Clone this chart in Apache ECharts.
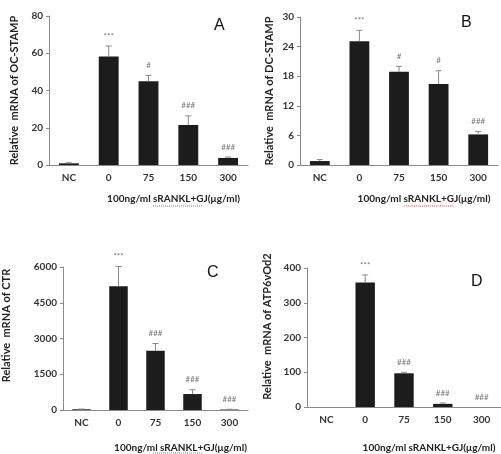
<!DOCTYPE html>
<html>
<head>
<meta charset="utf-8">
<script src="https://cdn.jsdelivr.net/npm/echarts@6/dist/echarts.min.js"></script>
<style>
  html, body { margin: 0; padding: 0; background: #fff; }
  #chart { width: 501px; height: 454px; }
</style>
</head>
<body>
<div id="chart"></div>
<script>
const categories = ['NC', '0', '75', '150', '300']

// panel A: OC-STAMP
const valA = [0.9, 58.2, 45.0, 21.5, 3.8]
const errA = [0.3, 5.7, 3.1, 4.9, 0.5]
const sigA = ['', '***', '#', '###', '###']
// panel B: DC-STAMP
const valB = [0.8, 25.1, 18.9, 16.4, 6.2]
const errB = [0.3, 2.2, 1.1, 2.7, 0.6]
const sigB = ['', '***', '#', '#', '###']
// panel C: CTR
const valC = [30, 5190, 2490, 670, 20]
const errC = [10, 830, 300, 180, 10]
const sigC = ['', '***', '###', '###', '###']
// panel D: ATP6vOd2
const valD = [0, 358, 97, 9, 0]
const errD = [0, 22, 3, 2.5, 0]
const sigD = ['', '***', '###', '###', '###']

const yTicksA = { max: 80, interval: 20 }
const yTicksB = { max: 30, interval: 6 }
const yTicksC = { max: 6000, interval: 1500 }
const yTicksD = { max: 400, interval: 100 }

const xName = '100ng/ml sRANKL+GJ(μg/ml)'
const font = 'Lato, "Liberation Sans", sans-serif'

const panels = [
  { grid: { left: 49, top: 16, width: 199, height: 149 }, val: valA, err: errA, sig: sigA, y: yTicksA, xGap: 29,
    yName: 'Relative  mRNA of OC-STAMP', yGap: 29, yPad: [0, 0, 0, 0], letter: 'A', lx: 220, ly: 27, wave: [153, 206] },
  { grid: { left: 300, top: 17, width: 198, height: 148 }, val: valB, err: errB, sig: sigB, y: yTicksB, xGap: 29,
    yName: 'Relative  mRNA of DC-STAMP', yGap: 25, yPad: [0, 0, 0, 0], letter: 'B', lx: 467, ly: 24, wave: [404, 206] },
  { grid: { left: 49, top: 267, width: 199, height: 148 }, val: valC, err: errC, sig: sigC, y: yTicksC, xGap: 33,
    yName: 'Relative  mRNA of CTR', yGap: 51, yPad: [0, 0, 0, 26], letter: 'C', lx: 213, ly: 274, wave: [153, 453] },
  { grid: { left: 307, top: 268, width: 194, height: 149 }, val: valD, err: errD, sig: sigD, y: yTicksD, xGap: 36,
    yName: 'Relative  mRNA of ATP6vOd2', yGap: 34, yPad: [0, 0, 0, 22], letter: 'D', lx: 477, ly: 283, wave: null }
]

const chart = echarts.init(document.getElementById('chart'))

const renderErr = (params, api) => {
  const idx = api.value(0)
  const top = api.coord([idx, api.value(2)])
  const base = api.coord([idx, api.value(1)])
  const sig = api.value(3)
  const children = []
  if (api.value(2) > api.value(1)) {
    const st = { stroke: '#8a8a8a', lineWidth: 1 }
    children.push({ type: 'line', shape: { x1: top[0], y1: base[1], x2: top[0], y2: top[1] }, style: st })
    children.push({ type: 'line', shape: { x1: top[0] - 3, y1: top[1], x2: top[0] + 3, y2: top[1] }, style: st })
  }
  if (sig) {
    children.push({
      type: 'text',
      style: {
        text: sig, x: top[0], y: top[1] - 10,
        align: 'center', verticalAlign: 'middle', textAlign: 'center', textVerticalAlign: 'middle',
        fill: '#777', font: '8px ' + font
      }
    })
  }
  return { type: 'group', children }
}

const option = {
  backgroundColor: '#fff',
  animation: false,
  grid: panels.map(p => p.grid),
  xAxis: panels.map((p, i) => ({
    type: 'category',
    gridIndex: i,
    data: categories,
    axisLine: { lineStyle: { color: '#8a8a8a', width: 1 } },
    axisTick: { show: false },
    axisLabel: { color: '#333', fontWeight: 'bold', fontSize: 10, fontFamily: font, margin: 8 },
    name: xName,
    nameLocation: 'middle',
    nameGap: p.xGap,
    nameTextStyle: { color: '#222', fontWeight: 'bold', fontSize: 10, fontFamily: font, padding: [0, 0, 0, 50] }
  })),
  yAxis: panels.map((p, i) => ({
    type: 'value',
    gridIndex: i,
    min: 0,
    max: p.y.max,
    interval: p.y.interval,
    splitLine: { show: false },
    axisLine: { show: true, lineStyle: { color: '#8a8a8a', width: 1 } },
    axisTick: { show: true, length: 3, lineStyle: { color: '#8a8a8a' } },
    axisLabel: { color: '#333', fontWeight: 'bold', fontSize: 10, fontFamily: font, margin: 6, formatter: v => String(v) },
    name: p.yName,
    nameLocation: 'middle',
    nameGap: p.yGap,
    nameRotate: 90,
    nameTextStyle: { color: '#222', fontWeight: 'bold', fontSize: 11, fontFamily: font, padding: p.yPad }
  })),
  series: [
    ...panels.map((p, i) => ({
      type: 'bar',
      xAxisIndex: i,
      yAxisIndex: i,
      data: p.val,
      barWidth: '50%',
      itemStyle: { color: '#1c1c1c' }
    })),
    ...panels.map((p, i) => ({
      type: 'custom',
      xAxisIndex: i,
      yAxisIndex: i,
      renderItem: renderErr,
      encode: { x: 0, y: 2 },
      data: p.val.map((v, j) => [j, v, v + p.err[j], p.sig[j]]),
      z: 3
    }))
  ],
  graphic: [
    ...panels.map(p => ({
      type: 'text',
      left: p.lx - 6,
      top: p.ly - 9,
      style: { text: p.letter, fill: '#111', font: '16px "Liberation Sans", sans-serif' }
    })),
    // spell-check underline under "sRANKL+GJ"
    ...panels.filter(p => p.wave).map(p => ({
      type: 'line',
      shape: { x1: p.wave[0], y1: p.wave[1], x2: p.wave[0] + 50, y2: p.wave[1] },
      style: { stroke: '#e06060', lineWidth: 1, lineDash: [1, 1] }
    }))
  ]
}

chart.setOption(option)
</script>
</body>
</html>
